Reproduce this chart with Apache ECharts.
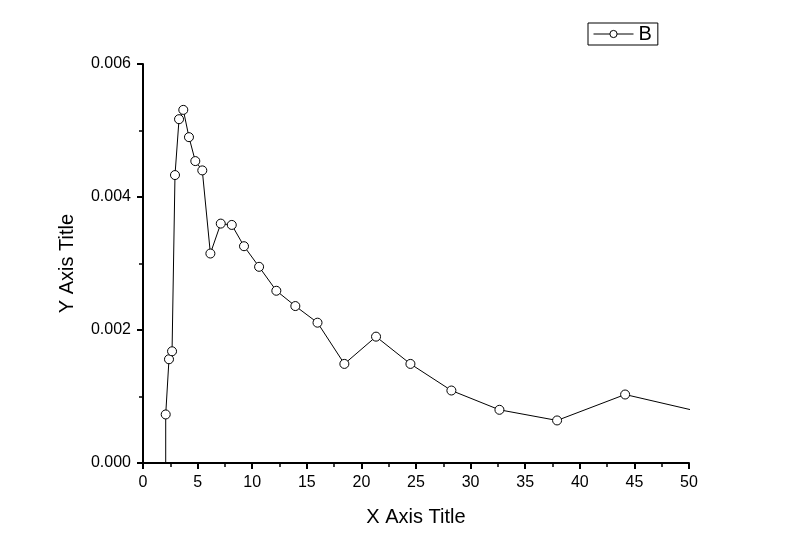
<!DOCTYPE html>
<html>
<head>
<meta charset="utf-8">
<script src="https://cdn.jsdelivr.net/npm/echarts@6/dist/echarts.min.js"></script>
<style>
  html, body { margin: 0; padding: 0; background: #fff; }
  #chart { width: 800px; height: 557px; }
</style>
</head>
<body>
<div id="chart"></div>
<script>
  // values (x, y); first and last point run off the frame
  var xValues = [2.08, 2.08, 2.38, 2.66, 2.93, 3.30, 3.69, 4.21, 4.79, 5.43, 6.17, 7.12, 8.13,
                 9.25, 10.63, 12.21, 13.95, 15.98, 18.44, 21.34, 24.49, 28.24, 32.64, 37.92, 44.15, 51.5];
  var yValues = [-0.0005, 0.00073, 0.00156, 0.00168, 0.00433, 0.00517, 0.00531, 0.00490, 0.00454, 0.00440,
                 0.00315, 0.00360, 0.00358, 0.00326, 0.00295, 0.00259, 0.00236, 0.00211, 0.00149,
                 0.00190, 0.00149, 0.00109, 0.00080, 0.00064, 0.00103, 0.00075];
  var seriesName = 'B';
  var xTitle = 'X Axis Title';
  var yTitle = 'Y Axis Title';

  var points = xValues.map(function (x, i) { return [x, yValues[i]]; });

  var chart = echarts.init(document.getElementById('chart'));
  var font = 'Liberation Sans, Arial, sans-serif';

  chart.setOption({
    animation: false,
    backgroundColor: '#fff',
    textStyle: { fontFamily: font, color: '#000' },
    grid: { left: 143, right: 111, top: 64, bottom: 94 },
    legend: {
      data: [seriesName],
      left: 588,
      top: 23,
      padding: [1, 6, 1, 5],
      itemWidth: 40,
      itemHeight: 9,
      itemGap: 6,
      borderColor: '#000',
      borderWidth: 1,
      borderRadius: 0,
      itemStyle: { color: '#fff', borderColor: '#000', borderWidth: 1 },
      lineStyle: { color: '#000', width: 1 },
      textStyle: { fontFamily: font, fontSize: 20, color: '#000', padding: [0, 0, 0, 0] }
    },
    xAxis: {
      type: 'value',
      min: 0,
      max: 50,
      interval: 5,
      name: xTitle,
      nameLocation: 'middle',
      nameGap: 44,
      nameTextStyle: { fontFamily: font, fontSize: 20, color: '#000' },
      axisLine: { onZero: false, lineStyle: { color: '#000', width: 2 } },
      axisTick: { length: 6, lineStyle: { color: '#000', width: 2 } },
      minorTick: { show: true, splitNumber: 2, length: 4, lineStyle: { color: '#000', width: 1.5 } },
      axisLabel: { fontFamily: font, fontSize: 16, color: '#000', margin: 12 },
      splitLine: { show: false }
    },
    yAxis: {
      type: 'value',
      min: 0,
      max: 0.006,
      interval: 0.002,
      name: yTitle,
      nameLocation: 'middle',
      nameGap: 66,
      nameTextStyle: { fontFamily: font, fontSize: 20, color: '#000' },
      axisLine: { show: true, onZero: false, lineStyle: { color: '#000', width: 2 } },
      axisTick: { show: true, length: 6, lineStyle: { color: '#000', width: 2 } },
      minorTick: { show: true, splitNumber: 2, length: 4, lineStyle: { color: '#000', width: 1.5 } },
      axisLabel: {
        fontFamily: font, fontSize: 16, color: '#000', margin: 12,
        formatter: function (v) { return v.toFixed(3); }
      },
      splitLine: { show: false }
    },
    series: [{
      name: seriesName,
      type: 'line',
      data: points,
      clip: true,
      symbol: 'circle',
      symbolSize: 9,
      color: '#000',
      itemStyle: { color: '#fff', borderColor: '#000', borderWidth: 1 },
      lineStyle: { color: '#000', width: 1 }
    }]
  });
</script>
</body>
</html>
